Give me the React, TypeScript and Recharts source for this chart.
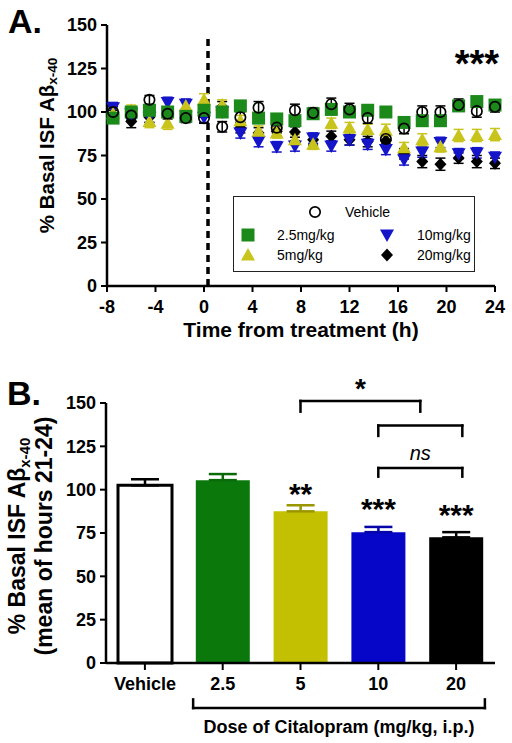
import {
  ScatterChart,
  Scatter,
  BarChart,
  Bar,
  XAxis,
  YAxis,
  ErrorBar,
  ReferenceLine,
  ReferenceDot,
  LabelList,
} from "recharts";

const FONT = "'Liberation Sans', Arial, Helvetica, sans-serif";

// ---- panel A: time course (% of basal ISF Abeta x-40) ----
const hours = [-7.5, -6, -4.5, -3, -1.5, 0, 1.5, 3, 4.5, 6, 7.5, 9, 10.5, 12, 13.5, 15, 16.5, 18, 19.5, 21, 22.5, 24];

const vehicle = [100, 98, 107, 99, 96.5, 96.5, 91.5, 97, 102.5, 91, 101, 99.5, 104.5, 101.5, 96.5, 84.5, 90.5, 100, 100, 104, 100.5, 103];
const dose25 = [96.5, 100, 101, 100, 97.5, 101, 100, 103.5, 96.5, 96, 95, 99, 101.5, 100, 101, 100, 94, 95, 95, 103.5, 106, 104];
const dose5 = [99, 101, 94.5, 93.5, 103.5, 107, 104, 95, 89, 88, 84, 81.5, 93.5, 91, 90, 89.5, 79.5, 84, 80, 86.5, 86.5, 87];
const dose10 = [102.5, 99, 97, 105.5, 104.5, 97, 100, 88, 83, 80, 80.5, 85, 80.5, 84, 81.5, 78.5, 72.5, 77, 82.5, 76, 76.5, 74];
const dose20 = [98, 94.5, 97, 100, 97, 100, 103, 91, 88, 89, 88.5, 84, 86, 84, 83, 83.5, 76, 71.5, 70, 73.5, 71.5, 70.5];

const vehicleSem = [3, 3, 2.5, 3, 2.5, 3, 3, 3, 3.5, 3, 3.5, 3, 3.5, 3.5, 3, 3, 3, 3.5, 3.5, 3.5, 3.5, 3];
const dose25Sem = [3, 2.5, 3, 3, 3, 2.5, 2.5, 2.5, 3, 2.5, 2.5, 3, 3, 2.5, 2.5, 2.5, 2.5, 3, 3, 3, 2.5, 2.5];
const dose5Sem = [3, 3, 3.5, 3.5, 3, 3.5, 3, 3, 3, 3, 3, 3, 3, 3, 3, 3.5, 3, 3.5, 3, 3.5, 3.5, 3.5];
const dose10Sem = [3, 3, 3, 3, 3, 3, 3, 3, 3, 3, 3, 3, 3, 3, 3, 3, 3, 3, 3, 3, 3, 3];
const dose20Sem = [3, 3.5, 3, 3, 3, 3, 3, 3, 3, 3, 3, 3, 3, 3, 3, 3, 3, 3.5, 3.5, 3, 3.5, 3];

const yTicksA = [0, 25, 50, 75, 100, 125, 150];
const xTicksA = [-8, -4, 0, 4, 8, 12, 16, 20, 24];

const seriesA = [
  { name: "20mg/kg", values: dose20, sem: dose20Sem, kind: "diamond", color: "#000000", err: "#000000" },
  { name: "10mg/kg", values: dose10, sem: dose10Sem, kind: "down", color: "#1414c8", err: "#1414c8" },
  { name: "5mg/kg", values: dose5, sem: dose5Sem, kind: "up", color: "#c8c41c", err: "#c8c41c" },
  { name: "2.5mg/kg", values: dose25, sem: dose25Sem, kind: "square", color: "#1b8a1b", err: "#1b8a1b" },
  { name: "Vehicle", values: vehicle, sem: vehicleSem, kind: "circle", color: "#000000", err: "#000000" },
];

// ---- panel B: mean of hours 21-24 ----
const doseLabels = ["Vehicle", "2.5", "5", "10", "20"];
const meanAbeta = [102.5, 105.5, 87.5, 75.5, 72.5];
const semAbeta = [3.5, 3.5, 3.5, 3, 3];
const sigVsVehicle = ["", "", "**", "***", "***"];
const yTicksB = [0, 25, 50, 75, 100, 125, 150];

const barStyles = [
  { fill: "#ffffff", stroke: "#000000", err: "#000000", sigOffset: 0 },
  { fill: "#0a780a", stroke: "none", err: "#0a6a0a", sigOffset: 0 },
  { fill: "#c2c000", stroke: "none", err: "#9a9600", sigOffset: 7 },
  { fill: "#0606c8", stroke: "none", err: "#0606a8", sigOffset: 13 },
  { fill: "#000000", stroke: "none", err: "#000000", sigOffset: 12 },
];

const rowsB = doseLabels.map((label, i) => {
  const row: any = { pos: i, label };
  row[`v${i}`] = meanAbeta[i];
  row[`e${i}`] = [0, semAbeta[i]];
  row[`s${i}`] = sigVsVehicle[i];
  return row;
});

function Marker({ kind, color, cx, cy }: any) {
  if (cx == null || cy == null) return null;
  if (kind === "circle")
    return <circle cx={cx} cy={cy} r={5.2} fill="none" stroke={color} strokeWidth={1.7} />;
  if (kind === "square")
    return <rect x={cx - 6.5} y={cy - 6.5} width={13} height={13} fill={color} />;
  if (kind === "up")
    return <polygon points={`${cx},${cy - 7} ${cx + 7},${cy + 5.5} ${cx - 7},${cy + 5.5}`} fill={color} />;
  if (kind === "down")
    return <polygon points={`${cx},${cy + 7} ${cx + 7},${cy - 5.5} ${cx - 7},${cy - 5.5}`} fill={color} />;
  return <polygon points={`${cx},${cy - 6.5} ${cx + 6},${cy} ${cx},${cy + 6.5} ${cx - 6},${cy}`} fill={color} />;
}

const axisLine = { stroke: "#000", strokeWidth: 2.5 };
const tickLine = { stroke: "#000", strokeWidth: 2 };
const tickStyle = { fill: "#000", fontSize: 18, fontWeight: "bold", fontFamily: FONT };

function YTitleA(props: any) {
  const vb = props.viewBox;
  const x = vb.x + 46;
  const y = vb.y + vb.height / 2 - 10;
  return (
    <text
      transform={`translate(${x},${y}) rotate(-90)`}
      textAnchor="middle"
      dominantBaseline="central"
      fontSize={20.5}
      fontWeight="bold"
      fontFamily={FONT}
      fill="#000"
    >
      % Basal ISF Aβ
      <tspan fontSize={13.5} dy={6}>x-40</tspan>
    </text>
  );
}

function YTitleB(props: any) {
  const vb = props.viewBox;
  const y = vb.y + vb.height / 2 + 3;
  return (
    <g fontWeight="bold" fontFamily={FONT} fill="#000">
      <text
        transform={`translate(${vb.x + 17},${y}) rotate(-90)`}
        textAnchor="middle"
        dominantBaseline="central"
        fontSize={23}
      >
        % Basal ISF Aβ
        <tspan fontSize={15} dy={7}>x-40</tspan>
      </text>
      <text
        transform={`translate(${vb.x + 44},${y}) rotate(-90)`}
        textAnchor="middle"
        dominantBaseline="central"
        fontSize={23}
      >
        (mean of hours 21-24)
      </text>
    </g>
  );
}

function bracket(x1: number, x2: number, top: number, foot: number, key: string, label?: any) {
  const line = { stroke: "#000", strokeWidth: 2.5, strokeLinecap: "square" as const, ifOverflow: "visible" as const };
  return [
    <ReferenceLine key={`${key}-l`} segment={[{ x: x1, y: foot }, { x: x1, y: top }]} {...line} />,
    <ReferenceLine key={`${key}-t`} segment={[{ x: x1, y: top }, { x: x2, y: top }]} {...line} label={label} />,
    <ReferenceLine key={`${key}-r`} segment={[{ x: x2, y: top }, { x: x2, y: foot }]} {...line} />,
  ];
}

function LegendA() {
  return (
    <div
      style={{
        position: "absolute",
        left: 233,
        top: 196,
        width: 242,
        height: 76,
        boxSizing: "border-box",
        border: "1.5px solid #222",
        background: "#fff",
      }}
    >
      <svg width={240} height={74} style={{ position: "absolute", left: -1.5, top: -1.5 }}>
        <g fontSize={14} fontFamily={FONT} fill="#000" dominantBaseline="central">
          <Marker kind="circle" color="#000" cx={82} cy={16} />
          <text x={112} y={16}>Vehicle</text>
          <Marker kind="square" color="#1b8a1b" cx={15} cy={39} />
          <text x={44} y={39}>2.5mg/kg</text>
          <Marker kind="down" color="#1414c8" cx={154} cy={39} />
          <text x={184} y={39}>10mg/kg</text>
          <Marker kind="up" color="#c8c41c" cx={15} cy={59} />
          <text x={44} y={59}>5mg/kg</text>
          <Marker kind="diamond" color="#000" cx={154} cy={59} />
          <text x={184} y={59}>20mg/kg</text>
        </g>
      </svg>
    </div>
  );
}

export default function App() {
  return (
    <div
      style={{
        position: "absolute",
        left: 0,
        top: 0,
        width: 512,
        height: 743,
        background: "#fff",
        fontFamily: FONT,
      }}
    >
      <div style={{ position: "absolute", left: 8, top: 4, fontSize: 34, fontWeight: "bold", lineHeight: "34px" }}>
        A.
      </div>
      <div style={{ position: "absolute", left: 7, top: 376, fontSize: 34, fontWeight: "bold", lineHeight: "34px" }}>
        B.
      </div>

      <div style={{ position: "absolute", left: 0, top: 0 }}>
        <ScatterChart width={512} height={344} margin={{ top: 25, right: 17, bottom: 0, left: 0 }}>
          <XAxis
            type="number"
            dataKey="t"
            domain={[-8, 24]}
            ticks={xTicksA}
            height={58}
            tickSize={6}
            tickMargin={8}
            axisLine={axisLine}
            tickLine={tickLine}
            tick={tickStyle}
            label={{
              value: "Time from treatment (h)",
              position: "insideBottom",
              offset: 7,
              fontSize: 21,
              fontWeight: "bold",
              fill: "#000",
            }}
          />
          <YAxis
            type="number"
            dataKey="v"
            domain={[0, 150]}
            ticks={yTicksA}
            width={107}
            tickSize={6}
            tickMargin={4}
            axisLine={axisLine}
            tickLine={tickLine}
            tick={tickStyle}
            label={(p: any) => <YTitleA {...p} />}
          />
          <ReferenceLine
            segment={[{ x: 0.33, y: 0 }, { x: 0.33, y: 143 }]}
            stroke="#000"
            strokeWidth={3.5}
            strokeDasharray="7 5"
          />
          {seriesA.map((s) => (
            <Scatter
              key={s.name}
              name={s.name}
              data={hours.map((t, i) => ({ t, v: s.values[i], e: s.sem[i] }))}
              isAnimationActive={false}
              shape={(p: any) => <Marker kind={s.kind} color={s.color} cx={p.cx} cy={p.cy} />}
            >
              <ErrorBar dataKey="e" direction="y" width={5} strokeWidth={1.5} stroke={s.err} />
            </Scatter>
          ))}
          <ReferenceDot
            x={22.5}
            y={128}
            r={1}
            fill="none"
            stroke="none"
            ifOverflow="visible"
            label={{ value: "***", position: "center", fontSize: 38, fontWeight: "bold", fill: "#000" }}
          />
        </ScatterChart>
      </div>
      <LegendA />

      <div style={{ position: "absolute", left: 0, top: 360 }}>
        <BarChart width={512} height={383} data={rowsB} margin={{ top: 43, right: 17, bottom: 0, left: 0 }}>
          <XAxis
            type="number"
            dataKey="pos"
            domain={[-0.5, 4.5]}
            ticks={[0, 1, 2, 3, 4]}
            tickFormatter={(i: number) => doseLabels[i]}
            height={80}
            tickSize={7}
            tickMargin={7}
            axisLine={axisLine}
            tickLine={tickLine}
            tick={tickStyle}
          />
          <YAxis
            type="number"
            domain={[0, 150]}
            ticks={yTicksB}
            width={106}
            tickSize={6}
            tickMargin={4}
            axisLine={axisLine}
            tickLine={tickLine}
            tick={tickStyle}
            label={(p: any) => <YTitleB {...p} />}
          />
          {doseLabels.map((d, i) => (
            <Bar
              key={d}
              dataKey={`v${i}`}
              stackId="dose"
              barSize={54}
              fill={barStyles[i].fill}
              stroke={barStyles[i].stroke}
              strokeWidth={3}
              isAnimationActive={false}
            >
              <ErrorBar dataKey={`e${i}`} direction="y" width={14} strokeWidth={2.5} stroke={barStyles[i].err} />
              <LabelList
                dataKey={`s${i}`}
                position="top"
                offset={barStyles[i].sigOffset}
                fontSize={30}
                fontWeight="bold"
                fill="#000"
              />
            </Bar>
          ))}
          {bracket(2, 3.54, 151.2, 145, "star", {
            value: "*",
            position: "top",
            offset: 3,
            fontSize: 28,
            fontWeight: "bold",
            fill: "#000",
          })}
          {bracket(3, 4.08, 137, 131, "low")}
          {bracket(3, 4.08, 112.5, 107.5, "ns", {
            value: "ns",
            position: "top",
            offset: 8,
            fontSize: 20,
            fontStyle: "italic",
            fill: "#000",
          })}
          {bracket(0.62, 4.37, -26, -21, "dose", {
            value: "Dose of Citalopram (mg/kg, i.p.)",
            position: "bottom",
            offset: 12,
            fontSize: 18,
            fontWeight: "bold",
            fill: "#000",
          })}
        </BarChart>
      </div>
    </div>
  );
}
